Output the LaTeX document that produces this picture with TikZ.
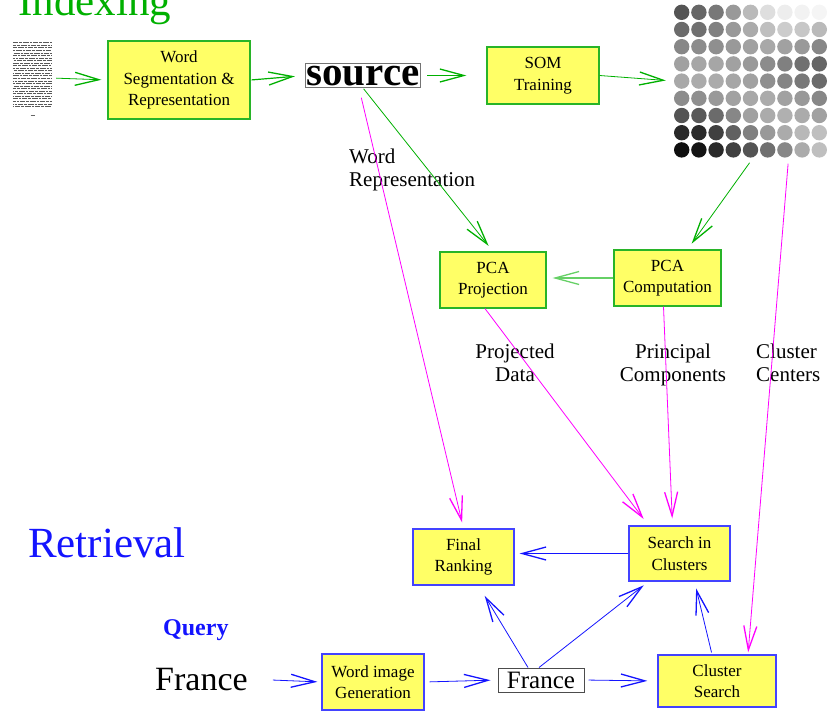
\documentclass[tikz,border=0pt]{standalone}
\usepackage{fontspec}
\setmainfont{Liberation Serif}
\usetikzlibrary{arrows.meta}
\definecolor{boxyellow}{RGB}{255,255,102}
\definecolor{idxgreen}{RGB}{0,176,0}
\definecolor{boxgreen}{RGB}{40,180,40}
\definecolor{retblue}{RGB}{20,20,255}
\definecolor{linkmagenta}{RGB}{255,0,255}

\begin{document}
\begin{tikzpicture}[x=1pt,y=-1pt,
	box/.style={draw,fill=boxyellow,line width=1.2pt,align=center,inner sep=0pt,font=\fontsize{17}{21.5}\selectfont},
	gbox/.style={box,draw=boxgreen},
	bbox/.style={box,draw=retblue!80},
	tip/.style={-{Straight Barb[length=24pt,width=13pt,line width=1.3pt]}},
	garr/.style={tip,draw=idxgreen,line width=0.8pt},
	marr/.style={tip,draw=linkmagenta,line width=0.8pt},
	barr/.style={tip,draw=retblue,line width=0.8pt},
	lbl/.style={inner sep=0pt,font=\fontsize{21}{23}\selectfont}]

	\useasboundingbox (0,0) rectangle (828,713);

	% headings
	\node[anchor=base west,inner sep=0pt,text=idxgreen,font=\fontsize{43}{43}\selectfont] (idx) at (18,15) {Indexing};
	\node[anchor=base west,inner sep=0pt,text=retblue,font=\fontsize{43}{43}\selectfont] (ret) at (28,557) {Retrieval};
	\node[anchor=base west,inner sep=0pt,text=retblue,font=\fontsize{24}{24}\selectfont\bfseries] (qry) at (163,635) {Query};

	% indexing part
	\node[minimum width=39pt,minimum height=70pt,inner sep=0pt] (page) at (32.5,78) {};
	\foreach \r in {0,...,25}
		\draw[black!65,line width=1pt,dash pattern=on 5pt off 1pt on 3pt off 1pt on 6pt off 1pt on 2pt off 1pt,dash phase=\r*2.3pt]
			([yshift=-\r*2.55pt]page.north west) -- ++(39,0);
	\draw[black!60,line width=1pt] ([xshift=-2pt,yshift=-2pt]page.south) -- ++(4,0);

	\node[gbox,minimum width=142pt,minimum height=78pt] (wseg) at (179,80) {Word\\Segmentation \&\\Representation};
	\node[draw=black!55,line width=1pt,inner xsep=1pt,inner ysep=2.5pt,text height=19pt,text depth=0pt,
		font=\fontsize{41}{41}\selectfont\bfseries] (src) at (363,75.5) {source};
	\node[gbox,minimum width=112pt,minimum height=57pt] (som) at (543,75.5) {SOM\\Training};

	\node[minimum width=155pt,minimum height=155pt,inner sep=0pt] (grid) at (750.5,81) {};
	\foreach \row [count=\j from 0] in {
		{67,60,53,40,27,13,7,5,4},
		{58,56,50,40,33,25,20,22,27},
		{47,45,44,40,37,34,37,40,47},
		{37,35,35,37,40,45,50,56,60},
		{34,33,33,35,37,44,48,53,58},
		{45,44,40,37,34,33,37,40,47},
		{67,65,58,47,37,33,31,33,37},
		{84,83,75,62,50,40,33,28,25},
		{94,92,84,75,67,56,47,33,25}}
		\foreach \g [count=\i from 0] in \row
			\fill[black!\g] (681.7+17.2*\i,12.3+17.2*\j) circle (7.7pt);

	\node[gbox,minimum width=106pt,minimum height=56pt] (pcap) at (493,280) {PCA\\Projection};
	\node[gbox,minimum width=107pt,minimum height=56pt] (pcac) at (667.5,278) {PCA\\Computation};

	\node[lbl,anchor=north west,align=left] (wrep) at (349,149) {Word\\Representation};
	\node[lbl,anchor=north,align=center] (pdat) at (515,344) {Projected\\Data};
	\node[lbl,anchor=north,align=center] (pcmp) at (673,344) {Principal\\Components};
	\node[lbl,anchor=north west,align=left] (ccen) at (756,344) {Cluster\\Centers};

	% retrieval part
	\node[bbox,minimum width=101pt,minimum height=56pt] (final) at (463.5,557) {Final\\Ranking};
	\node[bbox,minimum width=101pt,minimum height=55pt] (sic) at (679.5,553.5) {Search in\\Clusters};
	\node[bbox,minimum width=118pt,minimum height=52pt] (csearch) at (717,681) {Cluster\\Search};
	\node[bbox,minimum width=102pt,minimum height=56pt] (wig) at (373,682) {Word image\\Generation};
	\node[draw=black!70,line width=1pt,fill=white,inner sep=0pt,minimum width=86pt,minimum height=24pt,
		font=\fontsize{25}{25}\selectfont] (qfr) at (541,680) {France};
	\node[inner sep=0pt,anchor=base,font=\fontsize{34}{34}\selectfont] (qword) at (201.5,690) {France};

	% indexing connectors
	\draw[garr,shorten <=4pt,shorten >=6pt] (page.east) -- (wseg.west);
	\draw[garr,line width=1.2pt,shorten <=1pt,shorten >=10pt] (wseg.east) -- (src.west);
	\draw[garr,shorten <=6pt,shorten >=20pt] (src.east) -- (som.west);
	\draw[garr,shorten >=7pt] (som.east) -- (grid.west);
	\draw[garr,shorten <=1pt,shorten >=7pt] (src.south) -- (pcap.north);
	\draw[garr,shorten <=5pt,shorten >=7pt] ([xshift=2pt]grid.south) -- ([xshift=20pt]pcac.north);
	\draw[garr,draw=idxgreen!60,line width=1.6pt,shorten >=6pt] (pcac.west) -- (pcac.west -| pcap.east);

	\draw[marr,shorten <=10pt,shorten >=6pt] ([xshift=-4pt]src.south) -- (final.north);
	\draw[marr,shorten >=8pt] ([xshift=-8pt]pcap.south) -- ([xshift=-31pt]sic.north);
	\draw[marr,shorten >=7pt] ([xshift=-4pt]pcac.south) -- ([xshift=-7pt]sic.north);
	\draw[marr,shorten <=5pt,shorten >=2pt] ([xshift=38pt]grid.south) -- ([xshift=31pt]csearch.north);

	% retrieval connectors
	\draw[barr,shorten <=25pt,shorten >=4pt] (qword.east) -- (wig.west);
	\draw[barr,shorten <=5pt,shorten >=7pt] (wig.east) -- (qfr.west);
	\draw[barr,shorten <=4pt,shorten >=10pt] (qfr.east) -- (csearch.west);
	\draw[barr,shorten >=12pt] ([xshift=-13pt]qfr.north) -- ([xshift=15pt]final.south);
	\draw[barr,shorten >=6pt] ([xshift=-2pt]qfr.north) -- ([xshift=-31pt]sic.south);
	\draw[barr,shorten <=2pt,shorten >=7pt] ([xshift=-5pt]csearch.north) -- ([xshift=15pt]sic.south);
	\draw[barr,shorten >=5pt] (sic.west) -- (sic.west -| final.east);

\end{tikzpicture}
\end{document}
